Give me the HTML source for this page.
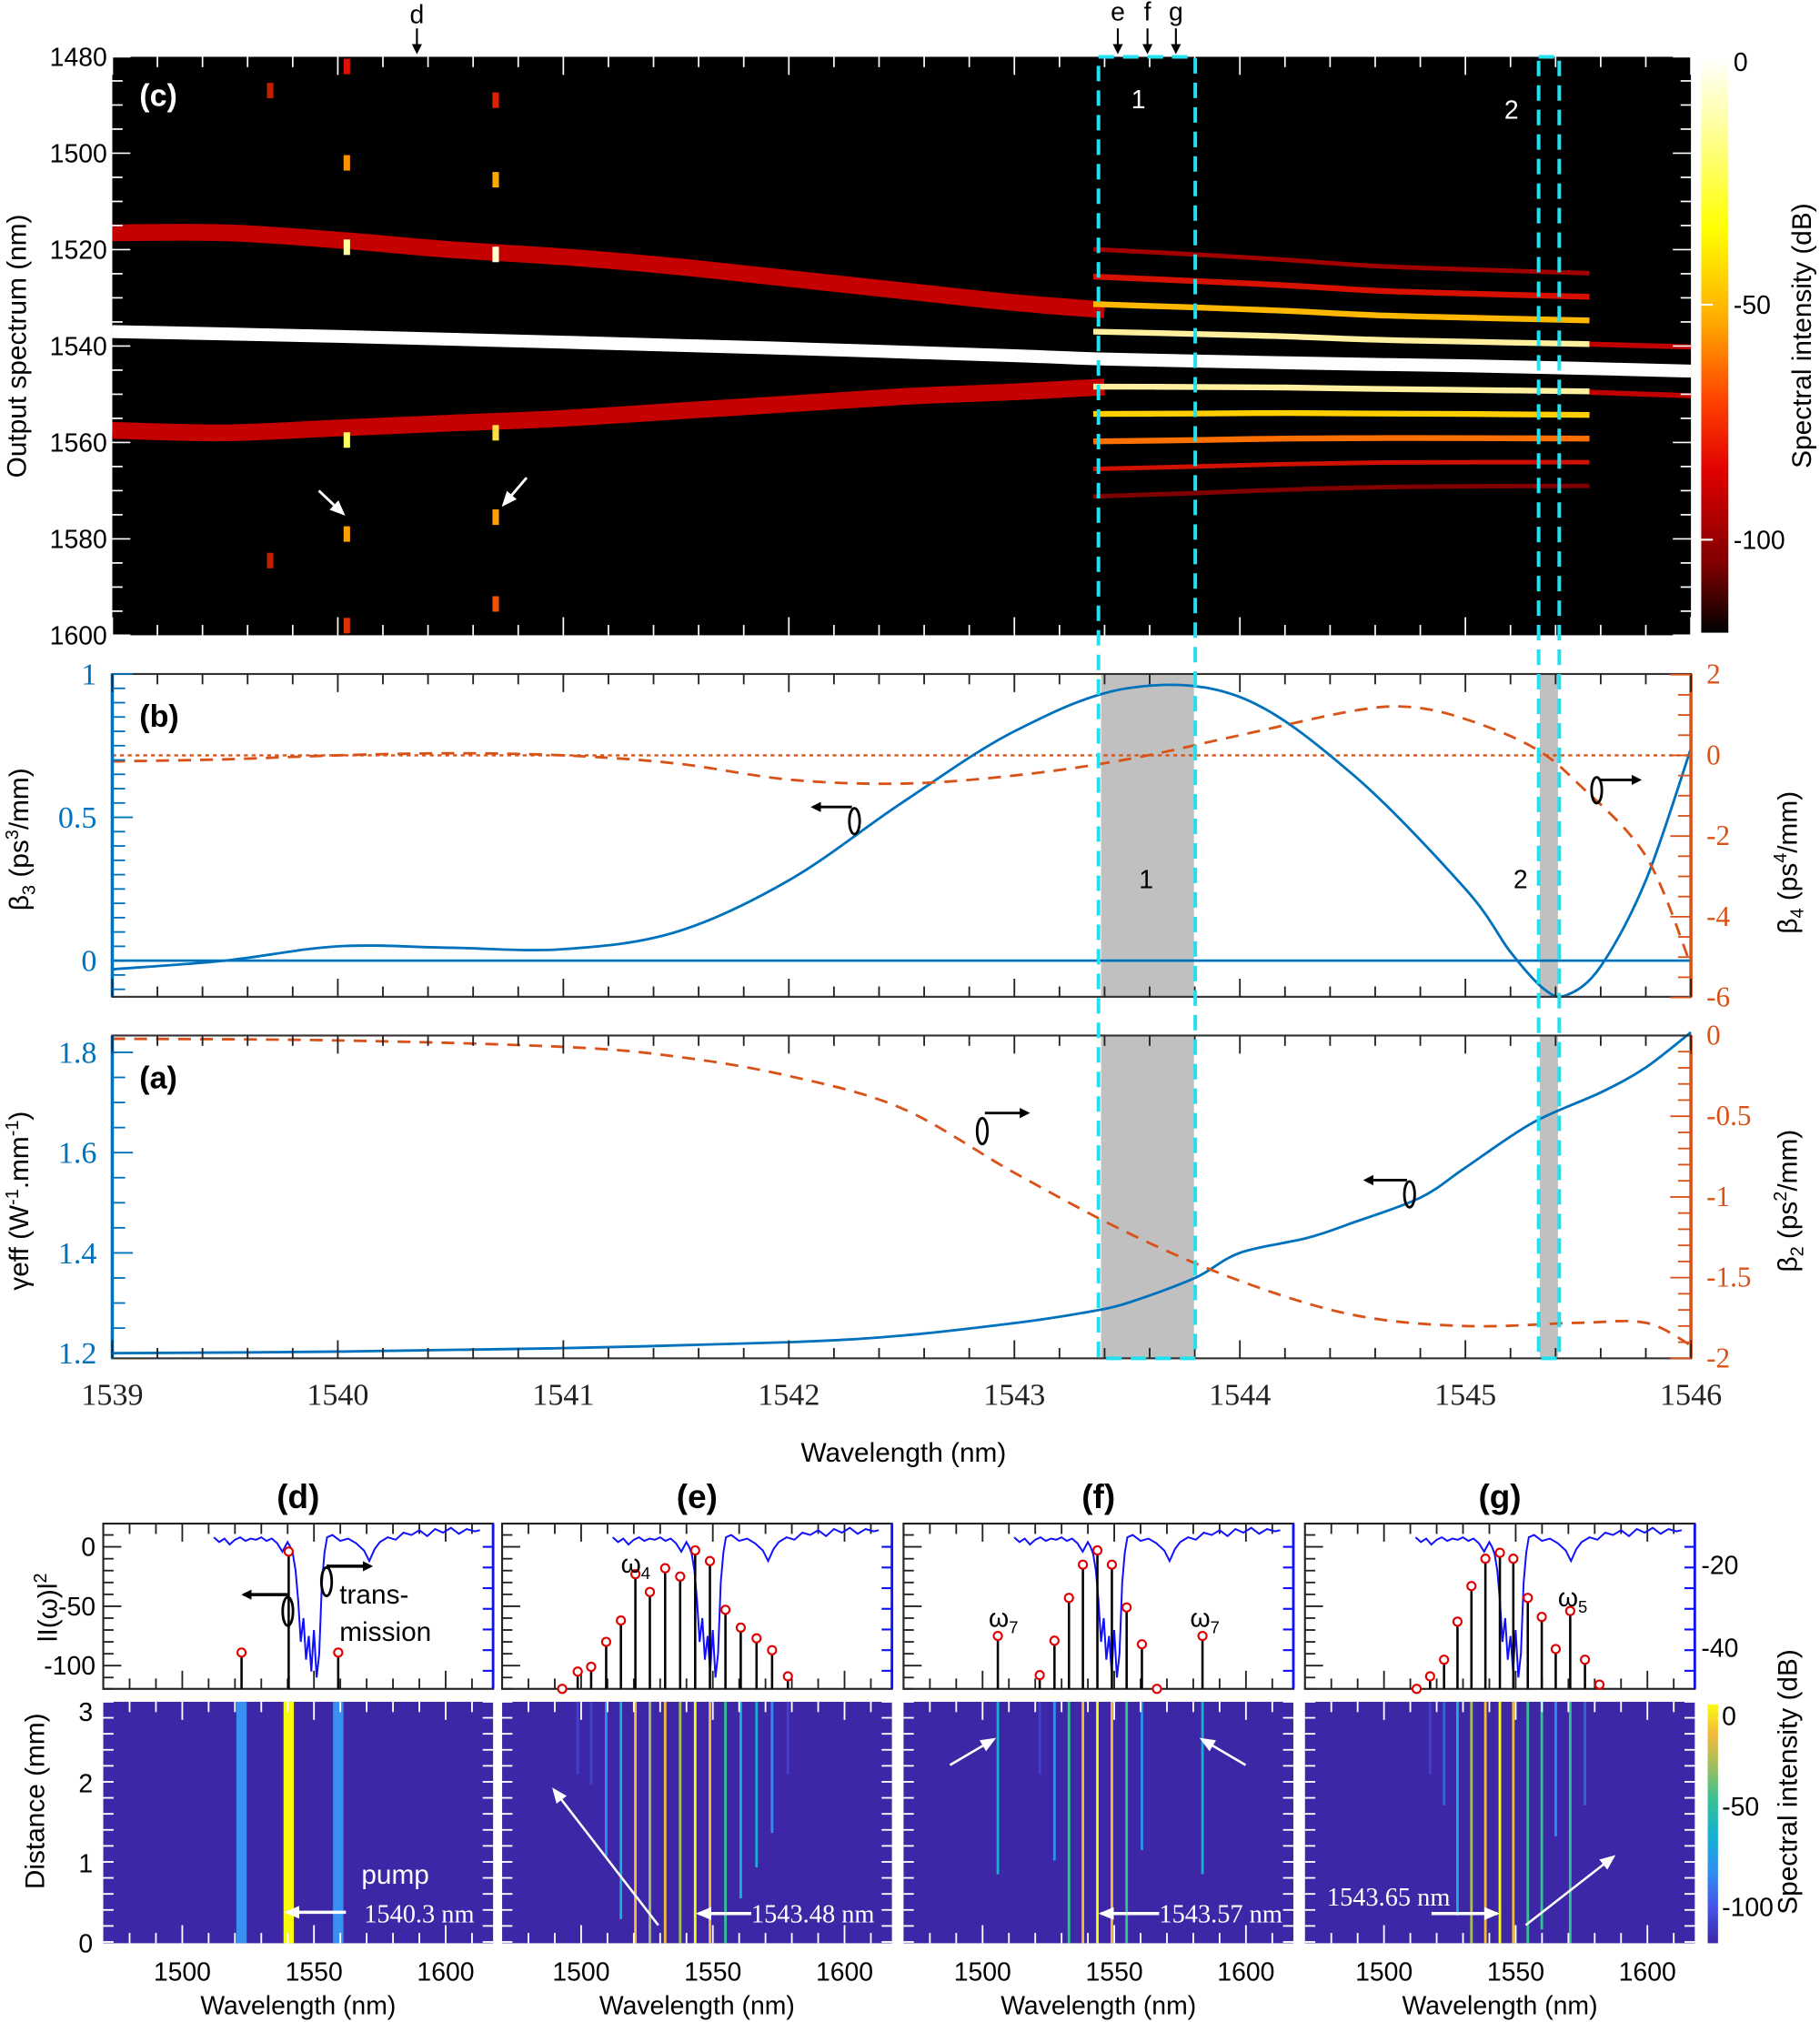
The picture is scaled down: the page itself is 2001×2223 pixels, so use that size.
<!DOCTYPE html>
<html><head><meta charset="utf-8">
<style>
html,body{margin:0;padding:0;background:#fff;}
svg{display:block;}
text{font-family:"Liberation Sans",sans-serif;}
.serif{font-family:"Liberation Serif",serif;}
</style></head>
<body>
<svg id="fig" xmlns="http://www.w3.org/2000/svg" width="2001" height="2223" viewBox="0 0 1410 1566" preserveAspectRatio="none">
<defs>
<linearGradient id="hotg" x1="0" y1="0" x2="0" y2="1">
<stop offset="0" stop-color="#ffffff"/><stop offset="0.12" stop-color="#ffffa0"/><stop offset="0.3" stop-color="#ffff00"/><stop offset="0.45" stop-color="#ffb000"/><stop offset="0.6" stop-color="#ff4000"/><stop offset="0.72" stop-color="#e00000"/><stop offset="0.88" stop-color="#800000"/><stop offset="1" stop-color="#000000"/>
</linearGradient>
<linearGradient id="parg" x1="0" y1="0" x2="0" y2="1">
<stop offset="0" stop-color="#f9fb0e"/><stop offset="0.12" stop-color="#f4ba3a"/><stop offset="0.25" stop-color="#a5be5a"/><stop offset="0.4" stop-color="#35c193"/><stop offset="0.55" stop-color="#17b0d3"/><stop offset="0.7" stop-color="#2f8ff0"/><stop offset="0.85" stop-color="#4555e6"/><stop offset="1" stop-color="#3e26a8"/>
</linearGradient>
<marker id="ahB" markerWidth="8" markerHeight="8" refX="6" refY="4" orient="auto" markerUnits="userSpaceOnUse"><path d="M0,0 L8,4 L0,8 z" fill="#000"/></marker>
<marker id="ahW" markerWidth="12" markerHeight="10" refX="10" refY="5" orient="auto" markerUnits="userSpaceOnUse"><path d="M0,0 L12,5 L0,10 z" fill="#fff"/></marker>
</defs>
<g id="layer"></g>
</svg>
<script>
// ===== DATA =====
const cW = [1539,1539.5,1540,1540.5,1541,1541.5,1542,1542.5,1543,1543.4];
const cUpper = [1516.5,1516.5,1518,1520,1521.5,1523.5,1526,1528.5,1531,1532.5];
const cLower = [1557.5,1558,1557,1556,1555,1553.5,1552,1550.5,1549.5,1548.5];
const pumpW = [1539,1540,1541,1542,1543,1543.4,1544,1544.6,1545,1545.5,1546];
const pumpL = [1537,1538,1539.2,1540.5,1542,1542.7,1543.3,1543.8,1544.1,1544.6,1545.2];
const r1W = [1543.35,1543.8,1544.2,1544.6,1545.0,1545.55];
const r1Pump = [1542.7,1543.0,1543.3,1543.8,1544.1,1544.5];
const r1Spacing = [5.7,5.5,5.3,5.1,5.0,4.9];
const r1Orders = [-4,-3,-2,-1,1,2,3,4,5];
const r1Colors = ['#a00000','#d81000','#ffb800','#fff0a0','#fff0a0','#ffd000','#ff7000','#d01000','#800000'];
const tailW = [1545.55,1546];
const tailUp = [1539.6,1540.2];
const tailDn = [1549.6,1550.3];
const blipW = [1540.04,1540.04,1540.04,1540.04,1540.04,1540.04,1540.7,1540.7,1540.7,1540.7,1540.7,1540.7,1539.7,1539.7];
const blipL = [1482,1502,1519.5,1559.5,1579,1598,1489,1505.5,1521,1558,1575.5,1593.5,1487,1584.5];
const blipC = ['#e01000','#ff9000','#ffffa0','#ffff60','#ffa000','#e03000','#e02000','#ffa800','#ffffd0','#ffe040','#ffa000','#f05000','#c02000','#c02000'];
const bW = [1539,1539.5,1540,1540.5,1541,1541.5,1542,1542.5,1543,1543.5,1544,1544.5,1545,1545.2,1545.35,1545.45,1545.6,1545.8,1546];
const beta3 = [-0.03,0.0,0.05,0.045,0.04,0.1,0.28,0.55,0.8,0.95,0.92,0.65,0.25,0.03,-0.1,-0.12,-0.02,0.28,0.74];
const b4W = [1539,1539.5,1540,1540.5,1541,1541.5,1542,1542.5,1543,1543.5,1544,1544.5,1544.75,1545,1545.3,1545.5,1545.8,1546];
const beta4 = [-0.15,-0.1,0.0,0.05,0.0,-0.2,-0.6,-0.7,-0.5,-0.1,0.5,1.1,1.2,0.9,0.2,-0.7,-2.5,-5.2];
const aW = [1539,1540,1541,1542,1542.5,1543,1543.3,1543.5,1543.8,1544,1544.3,1544.5,1544.8,1545,1545.3,1545.6,1545.8,1546];
const gammaEff = [1.2,1.203,1.21,1.222,1.235,1.26,1.28,1.3,1.35,1.4,1.43,1.46,1.51,1.57,1.66,1.72,1.77,1.84];
const b2W = [1539,1540,1541,1541.5,1542,1542.5,1543,1543.5,1544,1544.5,1545,1545.5,1545.8,1546];
const beta2 = [-0.02,-0.03,-0.07,-0.13,-0.25,-0.45,-0.85,-1.22,-1.52,-1.73,-1.8,-1.78,-1.78,-1.92];
const transW = [1512,1514,1516,1518,1520,1522,1524,1526,1528,1530,1532,1534,1536,1538,1540,1541,1542,1543,1544,1545,1546,1547,1548,1549,1550,1551,1552,1553,1554,1555,1557,1560,1563,1566,1569,1571,1573,1575,1578,1581,1584,1587,1590,1593,1596,1599,1602,1605,1608,1611,1613];
const transV = [8,4,7,2,6,8,5,7,6,8,5,7,3,-4,4,0,-6,-20,-45,-80,-60,-95,-75,-105,-70,-110,-90,-30,-5,8,10,5,7,3,-3,-12,-2,4,8,6,12,10,14,9,15,12,16,11,15,13,14];
const dW = [1522.5,1540.4,1559.2];
const dV = [-89,-4,-89];
const eW = [1492.8,1498.7,1503.8,1509.5,1515.1,1520.6,1526.1,1531.9,1537.6,1543.3,1548.9,1554.8,1560.6,1566.6,1572.5,1578.5];
const eV = [-120,-105,-101,-80,-62,-23,-38,-18,-25,-3,-12,-53,-68,-77,-87,-109];
const fW = [1505.8,1521.7,1527.3,1532.8,1538.1,1543.6,1549.1,1554.7,1560.5,1566.2,1583.5];
const fV = [-75,-108,-79,-43,-15,-3,-15,-51,-82,-120,-75];
const gW = [1512.4,1517.5,1522.8,1527.9,1533.2,1538.5,1544,1549.1,1554.6,1559.9,1565.2,1570.7,1576.3,1581.8];
const gV = [-120,-109,-95,-63,-33,-10,-5,-10,-43,-59,-86,-54,-95,-116];
const mainXTicks = ['1539','1540','1541','1542','1543','1544','1545','1546'];
const cYTicks = ['1480','1500','1520','1540','1560','1580','1600'];

// ===== HELPERS =====
const NS='http://www.w3.org/2000/svg';
const L=document.getElementById('layer');
function mk(tag,parent){const e=document.createElementNS(NS,tag);(parent||L).appendChild(e);return e;}
function set(e,o){for(const k in o)e.setAttribute(k,o[k]);return e;}
function txt(parent,s,x,y,size,fill,anchor,cls,extra){const t=mk('text',parent);set(t,{x:x,y:y,'font-size':size,fill:fill||'#000','text-anchor':anchor||'middle'});if(cls)t.setAttribute('class',cls);if(extra)set(t,extra);t.textContent=s;return t;}
function line(parent,x1,y1,x2,y2,stroke,w,extra){const l=mk('line',parent);set(l,{x1:x1,y1:y1,x2:x2,y2:y2,stroke:stroke,'stroke-width':w||1});if(extra)set(l,extra);return l;}
function smooth(pts){let d='M'+pts[0][0].toFixed(1)+','+pts[0][1].toFixed(1);for(let i=0;i<pts.length-1;i++){const p0=pts[i-1]||pts[i],p1=pts[i],p2=pts[i+1],p3=pts[i+2]||p2;const c1=[p1[0]+(p2[0]-p0[0])/6,p1[1]+(p2[1]-p0[1])/6],c2=[p2[0]-(p3[0]-p1[0])/6,p2[1]-(p3[1]-p1[1])/6];d+=' C'+c1[0].toFixed(1)+','+c1[1].toFixed(1)+' '+c2[0].toFixed(1)+','+c2[1].toFixed(1)+' '+p2[0].toFixed(1)+','+p2[1].toFixed(1);}return d;}

const XL=87,XR=1310;
const xW=w=>XL+(w-1539)*(XR-XL)/7;
const yC=l=>44+(l-1480)*448/120;
const yB3=v=>744-222*v;
const yB4=v=>585-31.25*v;
const yG=v=>1048-(v-1.2)*388.3;
const yB2=v=>802-125*v;
const parula=v=>{const t=Math.max(0,Math.min(1,(v+125)/125));const st=[[0,'#3e26a8'],[0.15,'#4555e6'],[0.3,'#2f8ff0'],[0.45,'#17b0d3'],[0.6,'#35c193'],[0.75,'#a5be5a'],[0.88,'#f4ba3a'],[1,'#f9fb0e']];for(let i=0;i<st.length-1;i++){if(t<=st[i+1][0])return st[t-st[i][0]<st[i+1][0]-t?i:i+1][1];}return st[7][1];};

// ===== PANEL (c) =====
const gc=mk('g');


const bgc=set(mk('rect',gc),{x:XL,y:44,width:XR-XL,height:448,fill:'#000'});


function bandPath(ws,ls){return smooth(ws.map((w,i)=>[xW(w),yC(ls[i])]));}
const bu=set(mk('path',gc),{d:bandPath(cW,cUpper),stroke:'#c40000','stroke-width':13,fill:'none'});


const bl=set(mk('path',gc),{d:bandPath(cW,cLower),stroke:'#c40000','stroke-width':13,fill:'none'});


const pp=set(mk('path',gc),{d:bandPath(pumpW,pumpL),stroke:'#ffffff','stroke-width':10,fill:'none'});


r1Orders.forEach((n,k)=>{
  const pts=r1W.map((w,i)=>[xW(w),yC(r1Pump[i]+n*r1Spacing[i])]);
  const p=set(mk('path',gc),{d:smooth(pts),stroke:r1Colors[k],'stroke-width':Math.abs(n)>=4?3.5:4.5,fill:'none'});
  
  
});
[tailUp,tailDn].forEach((arr,k)=>{
  const p=set(mk('path',gc),{d:bandPath(tailW,arr),stroke:'#c00000','stroke-width':4,fill:'none'});
  
  
});
blipW.forEach((w,i)=>{
  const r=set(mk('rect',gc),{x:xW(w)-2.5,y:yC(blipL[i])-6,width:5,height:12,fill:blipC[i]});
  
  
});
for(let w=1539;w<=1546.001;w+=0.2){const x=xW(w);const major=Math.abs(w-Math.round(w))<0.01;line(gc,x,44,x,44+(major?14:8),'#fff',1.2);line(gc,x,492,x,492-(major?14:8),'#fff',1.2);}
for(let l=1480;l<=1600;l+=5){const y=yC(l);const major=l%20===0;line(gc,XL,y,XL+(major?14:8),y,'#fff',1.2);line(gc,XR,y,XR-(major?14:8),y,'#fff',1.2);}
cYTicks.forEach(s=>{const t=txt(L,s,83,yC(+s)+7,20,'#000','end');});
const cb=set(mk('rect'),{x:1318,y:44,width:21,height:446,fill:'url(#hotg)'});


[[0,48],[-50,236],[-100,418]].forEach(([v,y])=>{if(v!==0){line(L,1318,y,1327,y,'#fff',1.5);}const t=txt(L,String(v),1343,y+7,20,'#000','start');});

// ===== PANEL (b) =====
const gb=mk('g');


[[853,925],[1193,1207]].forEach(([a,b],k)=>{const r=set(mk('rect',gb),{x:a,y:522,width:b-a,height:250,fill:'#c0c0c0'});});
line(gb,XL,yB4(0),XR,yB4(0),'#d95319',1.6,{'stroke-dasharray':'3,3'});
line(gb,XL,yB3(0),XR,yB3(0),'#0072bd',2);
const b3p=set(mk('path',gb),{d:smooth(bW.map((w,i)=>[xW(w),yB3(beta3[i])])),stroke:'#0072bd','stroke-width':2,fill:'none'});


const b4p=set(mk('path',gb),{d:smooth(b4W.map((w,i)=>[xW(w),yB4(beta4[i])])),stroke:'#d95319','stroke-width':2,fill:'none','stroke-dasharray':'10,7'});


set(mk('rect',gb),{x:XL,y:522,width:XR-XL,height:250,fill:'none',stroke:'#333','stroke-width':1.5});
line(gb,XL,522,XL,772,'#0072bd',2.5);line(gb,XR,522,XR,772,'#d95319',2.5);
// ===== PANEL (a) =====
const ga=mk('g');


[[853,925],[1193,1207]].forEach(([a,b],k)=>{const r=set(mk('rect',ga),{x:a,y:802,width:b-a,height:250,fill:'#c0c0c0'});});
const gp=set(mk('path',ga),{d:smooth(aW.map((w,i)=>[xW(w),yG(gammaEff[i])])),stroke:'#0072bd','stroke-width':2,fill:'none'});


const b2p=set(mk('path',ga),{d:smooth(b2W.map((w,i)=>[xW(w),yB2(beta2[i])])),stroke:'#d95319','stroke-width':2,fill:'none','stroke-dasharray':'10,7'});


set(mk('rect',ga),{x:XL,y:802,width:XR-XL,height:250,fill:'none',stroke:'#333','stroke-width':1.5});
line(ga,XL,802,XL,1052,'#0072bd',2.5);line(ga,XR,802,XR,1052,'#d95319',2.5);
[[522,772],[802,1052]].forEach(([t,b])=>{for(let w=1539;w<=1546.001;w+=0.2){const x=xW(w);const major=Math.abs(w-Math.round(w))<0.01;line(L,x,t,x,t+(major?14:8),'#222',1.3);line(L,x,b,x,b-(major?14:8),'#222',1.3);}});
for(let v=-0.1;v<=1.001;v+=0.05){const y=yB3(v);if(y<522||y>772)continue;const major=Math.abs(v*10-Math.round(v*10))<0.01&&Math.round(v*10)%5===0;line(L,XL,y,XL+(major?16:10),y,'#0072bd',1.3);}
for(let v=-6;v<=2;v+=0.5){const y=yB4(v);line(L,XR,y,XR-(v%2===0?16:10),y,'#d95319',1.3);}
for(let v=1.2;v<=1.83;v+=0.05){const y=yG(v);const major=Math.abs(v*10-Math.round(v*10))<0.01&&Math.round(v*10)%2===0;line(L,XL,y,XL+(major?16:10),y,'#0072bd',1.3);}
for(let v=-2;v<=0;v+=0.1){const y=yB2(v);const major=Math.abs(v*2-Math.round(v*2))<0.01;line(L,XR,y,XR-(major?16:10),y,'#d95319',1.3);}
[['1',1],['0.5',0.5],['0',0]].forEach(([s,v])=>{const t=txt(L,s,75,yB3(v)+8,24,'#0072bd','end','serif');});
[2,0,-2,-4,-6].forEach(v=>{const t=txt(L,String(v),1322,yB4(v)+7,22,'#d95319','start','serif');});
[1.8,1.6,1.4,1.2].forEach(v=>{const t=txt(L,v.toFixed(1),75,yG(v)+8,24,'#0072bd','end','serif');});
[['0',0],['-0.5',-0.5],['-1',-1],['-1.5',-1.5],['-2',-2]].forEach(([s,v])=>{const t=txt(L,s,1322,yB2(v)+7,22,'#d95319','start','serif');});
mainXTicks.forEach(s=>{const t=txt(L,s,xW(+s),1088,24,'#222','middle','serif');});

[[851,926],[1192,1208]].forEach(([a,b],k)=>{const r=set(mk('rect'),{x:a,y:44,width:b-a,height:1008,fill:'none',stroke:'#22e0f0','stroke-width':2.8,'stroke-dasharray':'12,7'});});

// ===== BOTTOM PANELS =====
const bp=[{id:'d',x0:80,W:dW,V:dV},{id:'e',x0:389,W:eW,V:eV},{id:'f',x0:700,W:fW,V:fV},{id:'g',x0:1011,W:gW,V:gV}];
const PW=302, yS=v=>Math.min(1308,1198-0.92*v), yD=d=>1504-62*d;
bp.forEach(p=>{
  const xs=w=>p.x0+(w-1470)*PW/148;
  const g=mk('g');
  
  
  const ti=txt(g,'('+p.id+')',p.x0+PW/2,1168,26,'#000','middle',null,{'font-weight':'bold'});
  
  
  set(mk('rect',g),{x:p.x0,y:1180,width:PW,height:128,fill:'#fff',stroke:'#222','stroke-width':1.5});
  line(g,p.x0+PW,1180,p.x0+PW,1308,'#1010ff',2);
  for(let w=1480;w<=1615;w+=10){const x=xs(w);const mj=w%50===0;line(g,x,1180,x,1180+(mj?14:8),'#222',1.3);line(g,x,1308,x,1308-(mj?14:8),'#222',1.3);}
  for(let v=-120;v<=20;v+=10){const y=yS(v);if(y<1181)continue;line(g,p.x0,y,p.x0+(v%50===0?14:8),y,'#222',1.3);}
  for(let y=1198;y<1308;y+=16){line(g,p.x0+PW,y,p.x0+PW-8,y,'#1010ff',1.5);}
  const tr=set(mk('path',g),{d:'M'+transW.map((w,i)=>xs(w).toFixed(1)+','+yS(transV[i]).toFixed(1)).join(' L'),stroke:'#1010ff','stroke-width':1.4,fill:'none'});
  
  
  p.W.forEach((w,i)=>{
    const st=line(g,xs(w),1308,xs(w),yS(p.V[i]),'#000',1.8);
    
    
    const c=set(mk('circle',g),{cx:xs(w),cy:yS(p.V[i]),r:3.2,fill:'#fff',stroke:'#e00000','stroke-width':1.5});
    
    
  });
  const hm=set(mk('rect',g),{x:p.x0,y:1318,width:PW,height:187,fill:'#3d27a6'});
  
  
  p.W.forEach((w,i)=>{
    const v=p.V[i];
    const wide=p.id==='d';
    const frac=wide?1:Math.max(0.3,Math.min(1,(v+125)/70));
    const col=wide?(v>-20?'#f9f90e':'#3a90f2'):parula(v);
    const r=set(mk('rect',g),{x:xs(w)-(wide?4:1),y:1318,width:wide?8:2,height:187*frac,fill:col,opacity:frac<0.45?0.6:1});
    
    
  });
  for(let w=1480;w<=1615;w+=10){const x=xs(w);const mj=w%50===0;line(g,x,1318,x,1318+(mj?14:8),'#fff',1.3);line(g,x,1505,x,1505-(mj?14:8),'#fff',1.3);}
  for(let d=0;d<=3.01;d+=0.2){const y=yD(d);line(g,p.x0,y,p.x0+8,y,'#fff',1.3);line(g,p.x0+PW,y,p.x0+PW-8,y,'#fff',1.3);}
  ['1500','1550','1600'].forEach(s=>{const t=txt(g,s,xs(+s),1534,20,'#000','middle');});
  const xl=txt(g,'Wavelength (nm)',p.x0+PW/2,1560,20,'#000','middle');
  
  
});
</script>
<script>
(function(){
const NS='http://www.w3.org/2000/svg';const L=document.getElementById('layer');
function mk(t){const e=document.createElementNS(NS,t);L.appendChild(e);return e;}
function set(e,o){for(const k in o)e.setAttribute(k,o[k]);return e;}
function T(s,x,y,size,fill,anchor,name,extra){const t=set(mk('text'),{x:x,y:y,'font-size':size,fill:fill,'text-anchor':anchor||'middle'});if(extra)set(t,extra);t.textContent=s;


return t;}
function A(x1,y1,x2,y2,col,w,name){const l=set(mk('line'),{x1:x1,y1:y1,x2:x2,y2:y2,stroke:col,'stroke-width':w,'marker-end':col==='#fff'?'url(#ahW)':'url(#ahB)'});


return l;}
function E(cx,cy,rx,ry,name){const e=set(mk('ellipse'),{cx:cx,cy:cy,rx:rx,ry:ry,fill:'none',stroke:'#000','stroke-width':2});

}
T('(c)',108,82,24,'#fff','start','panel-c-label',{'font-weight':'bold'});
T('(b)',108,563,24,'#000','start','panel-b-label',{'font-weight':'bold'});
T('(a)',108,843,24,'#000','start','panel-a-label',{'font-weight':'bold'});
T('1',882,84,20,'#fff','middle','region-1-label-c');
T('2',1171,92,20,'#fff','middle','region-2-label-c');
T('1',888,688,20,'#000','middle','region-1-label-b');
T('2',1178,688,20,'#000','middle','region-2-label-b');
T('d',323,18,20,'#000','middle','marker-d');A(323,22,323,40,'#000',1.5,'marker-d-arrow');
T('e',866,16,20,'#000','middle','marker-e');A(866,22,866,40,'#000',1.5,'marker-e-arrow');
T('f',889,16,20,'#000','middle','marker-f');A(889,22,889,40,'#000',1.5,'marker-f-arrow');
T('g',911,16,20,'#000','middle','marker-g');A(911,22,911,40,'#000',1.5,'marker-g-arrow');
A(247,380,266,398,'#fff',2,'sideband-arrow-left');A(408,370,390,391,'#fff',2,'sideband-arrow-right');
T('Output spectrum (nm)',0,0,21,'#000','middle','c-y-axis-title',{transform:'translate(20,268) rotate(-90)'});
T('Spectral intensity (dB)',0,0,21,'#000','middle','colorbar-c-title',{transform:'translate(1403,260) rotate(-90)'});
const t1=T('',0,0,21,'#000','middle','b-left-axis-title',{transform:'translate(22,650) rotate(-90)'});t1.innerHTML='β<tspan font-size="14" dy="5">3</tspan><tspan dy="-5"> (ps</tspan><tspan font-size="14" dy="-8">3</tspan><tspan dy="8">/mm)</tspan>';
const t2=T('',0,0,21,'#000','middle','b-right-axis-title',{transform:'translate(1392,668) rotate(-90)'});t2.innerHTML='β<tspan font-size="14" dy="5">4</tspan><tspan dy="-5"> (ps</tspan><tspan font-size="14" dy="-8">4</tspan><tspan dy="8">/mm)</tspan>';
const t3=T('',0,0,21,'#000','middle','a-left-axis-title',{transform:'translate(22,930) rotate(-90)'});t3.innerHTML='γeff (W<tspan font-size="14" dy="-8">-1</tspan><tspan dy="8">.mm</tspan><tspan font-size="14" dy="-8">-1</tspan><tspan dy="8">)</tspan>';
const t4=T('',0,0,21,'#000','middle','a-right-axis-title',{transform:'translate(1392,930) rotate(-90)'});t4.innerHTML='β<tspan font-size="14" dy="5">2</tspan><tspan dy="-5"> (ps</tspan><tspan font-size="14" dy="-8">2</tspan><tspan dy="8">/mm)</tspan>';
T('Wavelength (nm)',700,1132,21,'#000','middle','main-x-axis-title');
E(662,636,4,10,'curl-beta3');A(660,625,630,625,'#000',2,'curl-beta3-arrow');
E(1237,612,4,10,'curl-beta4');A(1239,604,1270,604,'#000',2,'curl-beta4-arrow');
E(761,876,4,10,'curl-beta2');A(763,862,796,862,'#000',2,'curl-beta2-arrow');
E(1092,925,4,10,'curl-gamma');A(1090,914,1058,914,'#000',2,'curl-gamma-arrow');
E(223,1248,4,11,'curl-d-left');A(223,1235,189,1235,'#000',2.5,'curl-d-left-arrow');
E(253,1225,4,11,'curl-d-right');A(253,1213,287,1213,'#000',2.5,'curl-d-right-arrow');
T('trans-',263,1242,21,'#000','start','transmission-label-1');
T('mission',263,1271,21,'#000','start','transmission-label-2');
const w4=T('',481,1218,20,'#000','start','omega4-label');w4.innerHTML='ω<tspan font-size="13" dy="5">4</tspan>';
const w7a=T('',766,1260,20,'#000','start','omega7-left-label');w7a.innerHTML='ω<tspan font-size="13" dy="5">7</tspan>';
const w7b=T('',922,1260,20,'#000','start','omega7-right-label');w7b.innerHTML='ω<tspan font-size="13" dy="5">7</tspan>';
const w5=T('',1207,1244,20,'#000','start','omega5-label');w5.innerHTML='ω<tspan font-size="13" dy="5">5</tspan>';
T('pump',280,1459,21,'#fff','start','pump-label');
T('1540.3 nm',282,1489,20,'#fff','start','pump-wavelength-d',{class:'serif'});A(268,1481,222,1481,'#fff',2.5,'pump-arrow-d');
T('1543.48 nm',582,1489,20,'#fff','start','pump-wavelength-e',{class:'serif'});A(582,1482,541,1482,'#fff',2.5,'pump-arrow-e');
A(510,1491,429,1386,'#fff',1.8,'growth-arrow-e');
T('1543.57 nm',898,1489,20,'#fff','start','pump-wavelength-f',{class:'serif'});A(898,1482,853,1482,'#fff',2.5,'pump-arrow-f');
A(736,1367,770,1347,'#fff',1.8,'omega7-arrow-left');A(965,1367,931,1347,'#fff',1.8,'omega7-arrow-right');
T('1543.65 nm',1028,1476,20,'#fff','start','pump-wavelength-g',{class:'serif'});A(1109,1482,1160,1482,'#fff',2.5,'pump-arrow-g');
A(1182,1491,1250,1438,'#fff',1.8,'growth-arrow-g');
[['0',1198],['-50',1244],['-100',1290]].forEach(([s,y])=>T(s,74,y+7,20,'#000','end','intensity-tick'));
[['3',1325],['2',1380],['1',1442],['0',1504]].forEach(([s,y])=>T(s,72,y+8,20,'#000','end','distance-tick'));
[['-20',1211],['-40',1275]].forEach(([s,y])=>T(s,1318,y+8,20,'#000','start','transmission-db-tick'));
const ii=T('',0,0,21,'#000','middle','intensity-axis-title',{transform:'translate(44,1245) rotate(-90)'});ii.innerHTML='lI(ω)l<tspan font-size="14" dy="-8">2</tspan>';
T('Distance (mm)',0,0,21,'#000','middle','distance-axis-title',{transform:'translate(34,1395) rotate(-90)'});
const pc=set(mk('rect'),{x:1323,y:1320,width:8,height:185,fill:'url(#parg)'});


[['0',1328],['-50',1398],['-100',1476]].forEach(([s,y])=>T(s,1334,y+8,20,'#000','start','parula-colorbar-tick'));
T('Spectral intensity (dB)',0,0,21,'#000','middle','parula-colorbar-title',{transform:'translate(1392,1380) rotate(-90)'});
})();
</script>
</body></html>
